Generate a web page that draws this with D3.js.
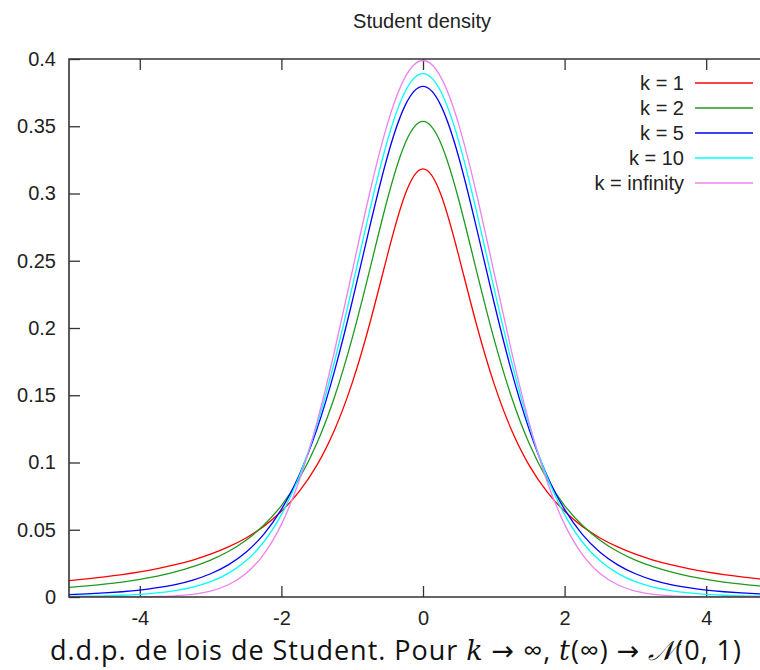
<!DOCTYPE html>
<html>
<head>
<meta charset="utf-8">
<script src="https://cdn.jsdelivr.net/npm/d3@7"></script>
<style>
  body { margin: 0; background: #fff; }
  svg { display: block; }
  .tick text { font-family: "Liberation Sans", Arial, sans-serif; font-size: 20px; fill: #222; }
</style>
</head>
<body>
<svg id="chart" width="760" height="670"></svg>
<script>
// values, x from -5 to 5 in steps of 0.25
const xs = [-5, -4.75, -4.5, -4.25, -4, -3.75, -3.5, -3.25, -3, -2.75, -2.5, -2.25, -2, -1.75, -1.5, -1.25, -1, -0.75, -0.5, -0.25,
  0, 0.25, 0.5, 0.75, 1, 1.25, 1.5, 1.75, 2, 2.25, 2.5, 2.75, 3, 3.25, 3.5, 3.75, 4, 4.25, 4.5, 4.75, 5]

const k1 = [0.0122, 0.0135, 0.0150, 0.0167, 0.0187, 0.0211, 0.0240, 0.0275, 0.0318, 0.0372, 0.0439, 0.0525, 0.0637, 0.0784, 0.0979, 0.1242, 0.1592, 0.2037, 0.2546, 0.2996,
  0.3183, 0.2996, 0.2546, 0.2037, 0.1592, 0.1242, 0.0979, 0.0784, 0.0637, 0.0525, 0.0439, 0.0372, 0.0318, 0.0275, 0.0240, 0.0211, 0.0187, 0.0167, 0.0150, 0.0135, 0.0122]
const k2 = [0.0071, 0.0082, 0.0095, 0.0111, 0.0131, 0.0155, 0.0186, 0.0225, 0.0274, 0.0338, 0.0422, 0.0533, 0.0680, 0.0878, 0.1141, 0.1487, 0.1925, 0.2438, 0.2963, 0.3376,
  0.3536, 0.3376, 0.2963, 0.2438, 0.1925, 0.1487, 0.1141, 0.0878, 0.0680, 0.0533, 0.0422, 0.0338, 0.0274, 0.0225, 0.0186, 0.0155, 0.0131, 0.0111, 0.0095, 0.0082, 0.0071]
const k5 = [0.0018, 0.0023, 0.0030, 0.0039, 0.0051, 0.0069, 0.0092, 0.0126, 0.0173, 0.0239, 0.0333, 0.0466, 0.0651, 0.0905, 0.1245, 0.1679, 0.2197, 0.2757, 0.3279, 0.3657,
  0.3796, 0.3657, 0.3279, 0.2757, 0.2197, 0.1679, 0.1245, 0.0905, 0.0651, 0.0466, 0.0333, 0.0239, 0.0173, 0.0126, 0.0092, 0.0069, 0.0051, 0.0039, 0.0030, 0.0023, 0.0018]
const k10 = [0.0004, 0.0006, 0.0009, 0.0013, 0.0020, 0.0031, 0.0048, 0.0074, 0.0114, 0.0176, 0.0269, 0.0409, 0.0612, 0.0895, 0.1275, 0.1751, 0.2304, 0.2880, 0.3397, 0.3760,
  0.3891, 0.3760, 0.3397, 0.2880, 0.2304, 0.1751, 0.1275, 0.0895, 0.0612, 0.0409, 0.0269, 0.0176, 0.0114, 0.0074, 0.0048, 0.0031, 0.0020, 0.0013, 0.0009, 0.0006, 0.0004]
const kInf = [0.0000, 0.0000, 0.0000, 0.0001, 0.0001, 0.0004, 0.0009, 0.0020, 0.0044, 0.0091, 0.0175, 0.0317, 0.0540, 0.0863, 0.1295, 0.1827, 0.2420, 0.3011, 0.3521, 0.3867,
  0.3989, 0.3867, 0.3521, 0.3011, 0.2420, 0.1827, 0.1295, 0.0863, 0.0540, 0.0317, 0.0175, 0.0091, 0.0044, 0.0020, 0.0009, 0.0004, 0.0001, 0.0001, 0.0000, 0.0000, 0.0000]

const labels = ['k = 1', 'k = 2', 'k = 5', 'k = 10', 'k = infinity']
const colors = ['#ff0000', '#1f9a1f', '#0000ff', '#00ffff', '#ee82ee']
const series = [k1, k2, k5, k10, kInf]

const xTicks = [-4, -2, 0, 2, 4]
const yTicks = [0, 0.05, 0.1, 0.15, 0.2, 0.25, 0.3, 0.35, 0.4]

/*----------------------------------------------------------------------------*/

const margin = { left: 69, top: 59, bottom: 597, right: 777 }
const svg = d3.select('#chart')

const x = d3.scaleLinear().domain([-5, 5]).range([margin.left, margin.right])
const y = d3.scaleLinear().domain([0, 0.4]).range([margin.bottom, margin.top])

const tickColor = '#333'

// axes: ticks point inwards, like gnuplot
svg.append('g')
  .attr('transform', `translate(0, ${margin.bottom})`)
  .call(d3.axisBottom(x).tickValues(xTicks).tickSize(-11).tickPadding(14).tickFormat(d => String(d)))
  .call(g => g.select('.domain').remove())
  .call(g => g.selectAll('.tick line').attr('stroke', tickColor).attr('stroke-width', 1.3))

svg.append('g')
  .attr('transform', `translate(0, ${margin.top})`)
  .call(d3.axisTop(x).tickValues(xTicks).tickSize(-11).tickFormat(''))
  .call(g => g.select('.domain').remove())
  .call(g => g.selectAll('.tick line').attr('stroke', tickColor).attr('stroke-width', 1.3))

svg.append('g')
  .attr('transform', `translate(${margin.left}, 0)`)
  .call(d3.axisLeft(y).tickValues(yTicks).tickSize(-11).tickPadding(13).tickFormat(d => d === 0 ? '0' : String(+d.toFixed(2))))
  .call(g => g.select('.domain').remove())
  .call(g => g.selectAll('.tick line').attr('stroke', tickColor).attr('stroke-width', 1.3))

// curves
const line = d3.line()
  .x((d, i) => x(xs[i]))
  .y(d => y(d))
  .curve(d3.curveNatural)

svg.append('clipPath').attr('id', 'plot')
  .append('rect')
  .attr('x', margin.left).attr('y', margin.top - 2)
  .attr('width', margin.right - margin.left).attr('height', margin.bottom - margin.top + 2)

svg.append('g')
  .attr('clip-path', 'url(#plot)')
  .selectAll('path')
  .data(series)
  .enter()
  .append('path')
  .attr('d', line)
  .attr('fill', 'none')
  .attr('stroke', (d, i) => colors[i])
  .attr('stroke-width', 1.3)

// frame
svg.append('path')
  .attr('d', `M${margin.right},${margin.top}H${margin.left}V${margin.bottom}H${margin.right}`)
  .attr('fill', 'none')
  .attr('stroke', tickColor)
  .attr('stroke-width', 1.6)

// legend
const legend = svg.append('g')
  .selectAll('g')
  .data(labels)
  .enter()
  .append('g')
  .attr('transform', (d, i) => `translate(0, ${83 + i * 25})`)

legend.append('text')
  .attr('x', 684)
  .attr('dy', '0.35em')
  .attr('text-anchor', 'end')
  .style('font-family', '"Liberation Sans", Arial, sans-serif')
  .style('font-size', '20px')
  .style('fill', '#222')
  .text(d => d)

legend.append('line')
  .attr('x1', 695).attr('x2', 753)
  .attr('stroke', (d, i) => colors[i])
  .attr('stroke-width', 1.3)

// title
svg.append('text')
  .attr('x', 422).attr('y', 28)
  .attr('text-anchor', 'middle')
  .style('font-family', '"Liberation Sans", Arial, sans-serif')
  .style('font-size', '20px')
  .style('fill', '#222')
  .text('Student density')

// caption
const cap = svg.append('text')
  .attr('x', 50).attr('y', 660)
  .attr('textLength', 691)
  .attr('lengthAdjust', 'spacing')
  .style('font-family', '"Open Sans", "DejaVu Sans", sans-serif')
  .style('font-size', '27px')
  .style('fill', '#111')

cap.append('tspan').text('d.d.p. de lois de Student. Pour ')
cap.append('tspan').style('font-style', 'italic').style('font-family', '"DejaVu Serif", serif').text('k')
cap.append('tspan').text(' → ∞, ')
cap.append('tspan').style('font-style', 'italic').style('font-family', '"DejaVu Serif", serif').text('t')
cap.append('tspan').text('(∞) → ')
cap.append('tspan').style('font-style', 'italic').style('font-family', '"DejaVu Serif", serif').text('𝒩')
cap.append('tspan').text('(0, 1)')
</script>
</body>
</html>
